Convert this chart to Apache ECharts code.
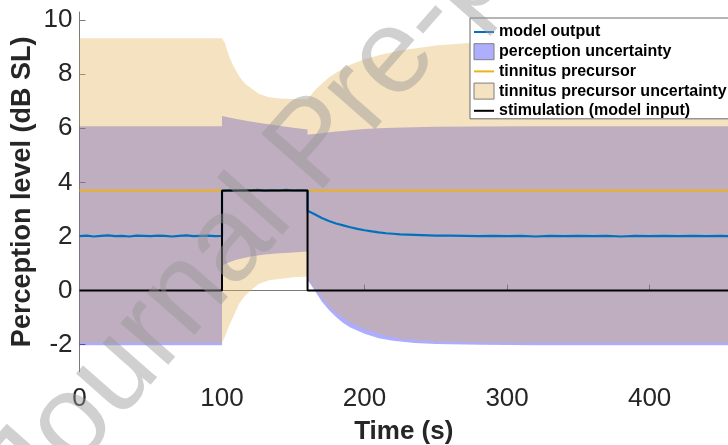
<!DOCTYPE html>
<html>
<head>
<meta charset="utf-8">
<script src="https://cdn.jsdelivr.net/npm/echarts@6/dist/echarts.min.js"></script>
<style>
html,body{margin:0;padding:0;background:#fff;}
#chart{width:728px;height:445px;}
</style>
</head>
<body>
<div id="chart"></div>
<script>
// ---------- data ----------
const xTicks = [0, 100, 200, 300, 400];
const yTicks = [-2, 0, 2, 4, 6, 8, 10];

// model output
const modelT = [0,5,10,15,20,25,30,35,40,45,50,55,60,65,70,75,80,85,90,95,100,
  100,105,110,115,120,125,130,135,140,145,150,155,160,
  160,165,170,175,180,185,190,195,200,205,210,215,220,225,230,235,240,245,250,
  260,270,280,290,300,310,320,330,340,350,360,370,380,390,400,410,420,430,440,450,455];
const modelY = [2.01,2.03,2.00,2.02,2.04,2.01,2.02,2.00,2.03,2.02,2.01,2.03,2.02,2.00,2.02,2.04,2.01,2.02,2.03,2.01,2.02,
  3.68,3.70,3.69,3.71,3.70,3.72,3.69,3.71,3.70,3.72,3.70,3.71,3.70,
  2.95,2.82,2.68,2.57,2.48,2.41,2.34,2.28,2.23,2.19,2.15,2.12,2.10,2.08,2.07,2.06,2.05,2.04,2.03,
  2.03,2.02,2.01,2.02,2.01,2.02,2.00,2.02,2.01,2.02,2.01,2.02,2.00,2.02,2.01,2.02,2.01,2.02,2.01,2.02,2.01];

// tinnitus precursor
const precT = [0, 455];
const precY = [3.7, 3.7];

// stimulation (model input)
const stimT = [0, 100, 100, 160, 160, 455];
const stimY = [0, 0, 3.7, 3.7, 0, 0];

// perception uncertainty band
const percT  = [0, 100, 100, 105, 110, 120, 130, 140, 150, 160, 160, 165, 170, 175, 180, 185, 190, 200, 210, 220, 235, 250, 280, 320, 455];
const percLo = [-2.02, -2.02, 0.92, 1.05, 1.14, 1.26, 1.33, 1.38, 1.41, 1.44, 0.40, 0.0, -0.40, -0.72, -0.98, -1.20, -1.37, -1.60, -1.76, -1.86, -1.94, -1.98, -2.00, -2.02, -2.02];
const percHi = [6.08, 6.08, 6.45, 6.40, 6.34, 6.25, 6.17, 6.09, 6.02, 5.96, 5.77, 5.79, 5.82, 5.85, 5.88, 5.90, 5.93, 5.97, 6.00, 6.02, 6.04, 6.06, 6.07, 6.08, 6.08];

// tinnitus precursor uncertainty band
const tinT  = [0, 100, 102, 105, 108, 112, 116, 120, 126, 133, 140, 150, 160, 162, 166, 170, 175, 180, 190, 200, 210, 225, 250, 280, 320, 370, 455];
const tinLo = [-1.93, -1.93, -1.70, -1.29, -0.95, -0.49, -0.20, 0.00, 0.25, 0.38, 0.43, 0.49, 0.52, 0.30, 0.00, -0.25, -0.58, -0.82, -1.18, -1.43, -1.60, -1.78, -1.88, -1.93, -1.93, -1.93, -1.93];
const tinHi = [9.33, 9.33, 9.15, 8.65, 8.30, 7.92, 7.66, 7.50, 7.27, 7.15, 7.10, 7.08, 7.07, 7.20, 7.45, 7.65, 7.88, 8.05, 8.35, 8.55, 8.70, 8.88, 9.06, 9.18, 9.26, 9.31, 9.33];

// ---------- chart ----------
const FONT = '"Liberation Sans", Arial, Helvetica, sans-serif';
const TXT = '#262626';
const AX = '#7a7a7a';

function band(name, T, Lo, Hi, fill, swatch, z) {
  return {
    type: 'custom', name: name, z: z, silent: true, clip: true,
    itemStyle: { color: swatch },
    data: T.map((t, i) => [t, Lo[i], Hi[i]]),
    encode: { x: 0, y: [1, 2] },
    renderItem: function (params, api) {
      if (params.dataIndex !== 0) return null;
      const pts = [];
      for (let i = 0; i < T.length; i++) pts.push(api.coord([T[i], Hi[i]]));
      for (let i = T.length - 1; i >= 0; i--) pts.push(api.coord([T[i], Lo[i]]));
      return { type: 'polygon', shape: { points: pts }, style: { fill: fill, stroke: null, lineWidth: 0 } };
    }
  };
}

const hideSym = { opacity: 0 };

const chart = echarts.init(document.getElementById('chart'), null, { renderer: 'canvas' });
chart.setOption({
  animation: false,
  backgroundColor: '#ffffff',
  textStyle: { fontFamily: FONT },
  grid: { left: 79.5, top: 12, right: 0, bottom: 73.3, containLabel: false, outerBoundsMode: 'none' },
  legend: {
    orient: 'vertical', left: 470, top: 18,
    backgroundColor: '#ffffff', borderColor: '#6a6a6a', borderWidth: 1,
    padding: [6, 3, 0, 3],
    itemWidth: 20, itemHeight: 16, itemGap: 3.2,
    textStyle: { fontFamily: FONT, fontSize: 16, fontWeight: 'bold', color: '#000', lineHeight: 16 },
    selectedMode: false,
    data: [
      { name: 'model output', itemStyle: hideSym },
      { name: 'perception uncertainty', icon: 'rect', itemStyle: { color: '#aeaeff', borderColor: '#7f7f7f', borderWidth: 1 } },
      { name: 'tinnitus precursor', itemStyle: hideSym },
      { name: 'tinnitus precursor uncertainty', icon: 'rect', itemStyle: { color: '#f4e2c0', borderColor: '#7f7f7f', borderWidth: 1 } },
      { name: 'stimulation (model input)', itemStyle: hideSym }
    ]
  },
  xAxis: {
    type: 'value', min: 0, max: 455,
    name: 'Time (s)', nameLocation: 'middle', nameGap: 47,
    nameTextStyle: { fontFamily: FONT, fontSize: 26, fontWeight: 'bold', color: TXT },
    axisLine: { show: true, lineStyle: { color: AX, width: 1 } },
    axisTick: { show: true, inside: true, length: 6, lineStyle: { color: AX }, customValues: xTicks },
    axisLabel: { fontSize: 26, color: TXT, margin: 14, fontFamily: FONT, customValues: xTicks },
    splitLine: { show: false }
  },
  yAxis: {
    type: 'value', min: -3, max: 10.3,
    name: 'Perception level (dB SL)', nameLocation: 'middle', nameGap: 43, nameMoveOverlap: false,
    nameTextStyle: { fontFamily: FONT, fontSize: 27, fontWeight: 'bold', color: TXT },
    axisLine: { show: true, lineStyle: { color: AX, width: 1 } },
    axisTick: { show: true, inside: true, length: 6, lineStyle: { color: AX }, customValues: yTicks },
    axisLabel: { fontSize: 26, color: TXT, margin: 7, fontFamily: FONT, customValues: yTicks },
    splitLine: { show: false }
  },
  series: [
    band('perception uncertainty', percT, percLo, percHi, 'rgba(0,0,255,0.32)', '#aeaeff', 1),
    band('tinnitus precursor uncertainty', tinT, tinLo, tinHi, 'rgba(224,174,80,0.36)', '#f4e2c0', 2),
    { type: 'line', name: 'tinnitus precursor', z: 3, symbol: 'none', color: '#EDB120',
      lineStyle: { color: '#EDB120', width: 2 }, data: precT.map((t, i) => [t, precY[i]]) },
    { type: 'line', name: 'model output', z: 4, symbol: 'none', color: '#0072BD',
      lineStyle: { color: '#0072BD', width: 2.2 }, data: modelT.map((t, i) => [t, modelY[i]]) },
    { type: 'line', name: 'stimulation (model input)', z: 5, symbol: 'none', color: '#000000',
      lineStyle: { color: '#000000', width: 2 }, data: stimT.map((t, i) => [t, stimY[i]]) }
  ],
  graphic: [{
    type: 'text', z: 100, silent: true,
    x: -35, y: 455, rotation: 0.85,
    style: { text: 'Journal Pre-proof', font: '120px "Liberation Sans", Arial, sans-serif',
      fill: 'rgba(150,150,150,0.45)', textVerticalAlign: 'alphabetic' }
  }]
});
</script>
</body>
</html>
